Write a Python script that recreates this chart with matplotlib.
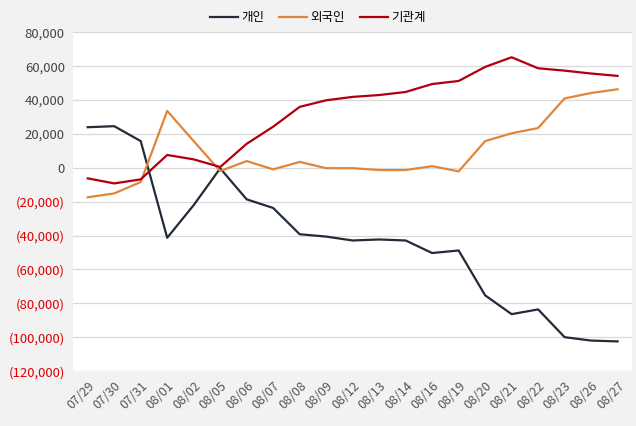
import matplotlib
matplotlib.use('Agg')
import matplotlib.pyplot as plt
from matplotlib.ticker import FuncFormatter

plt.rcParams['font.family'] = ['Noto Sans CJK KR', 'DejaVu Sans']

dates = ['07/29', '07/30', '07/31', '08/01', '08/02', '08/05', '08/06', '08/07',
         '08/08', '08/09', '08/12', '08/13', '08/14', '08/16', '08/19', '08/20',
         '08/21', '08/22', '08/23', '08/26', '08/27']
individual = [24000, 24600, 15800, -41300, -22000, -300, -18600, -23700,
              -39200, -40600, -42900, -42300, -42900, -50300, -48800, -75300,
              -86400, -83600, -100000, -102000, -102500]
foreign = [-17400, -15100, -8400, 33600, 15800, -1900, 4000, -900,
           3500, -200, -200, -1300, -1300, 1000, -2100, 15800,
           20400, 23500, 41000, 44200, 46400]
institution = [-6200, -9200, -6800, 7600, 5000, 500, 14200, 24300,
               36000, 39900, 41900, 43000, 44800, 49500, 51300, 59600,
               65300, 58800, 57400, 55700, 54300]

fig = plt.figure(figsize=(6.36, 4.26), dpi=100, facecolor='#f2f2f2')
ax = fig.add_axes([0.115, 0.129, 0.879, 0.795])
ax.set_facecolor('white')

x = range(len(dates))
ax.plot(x, individual, color='#232b38', lw=1.6, label='개인')
ax.plot(x, foreign, color='#e0853a', lw=1.6, label='외국인')
ax.plot(x, institution, color='#b00010', lw=1.6, label='기관계')

ax.set_ylim(-120000, 80000)
ax.set_yticks(range(-120000, 80001, 20000))
ax.set_xlim(-0.55, len(dates) - 0.45)
ax.set_xticks(list(x))
ax.set_xticklabels(dates, rotation=45, ha='right', rotation_mode='anchor',
                   fontsize=9, color='#555555')

def fmt(v, pos):
    return f'({abs(int(v)):,})' if v < 0 else f'{int(v):,}'
ax.yaxis.set_major_formatter(FuncFormatter(fmt))
for lab, v in zip(ax.get_yticklabels(), ax.get_yticks()):
    lab.set_color('#e00000' if v < 0 else '#444444')
    lab.set_fontsize(9.5)

ax.grid(axis='y', color='#d9d9d9', lw=0.9)
ax.set_axisbelow(True)
for s in ax.spines.values():
    s.set_visible(False)
ax.tick_params(length=0, pad=6)

fig.legend(loc='upper center', bbox_to_anchor=(0.5, 1.0), ncol=3, frameon=False,
           fontsize=9, handlelength=2.2, columnspacing=1.2, handletextpad=0.3)

fig.savefig('out.png', dpi=100, facecolor=fig.get_facecolor())
